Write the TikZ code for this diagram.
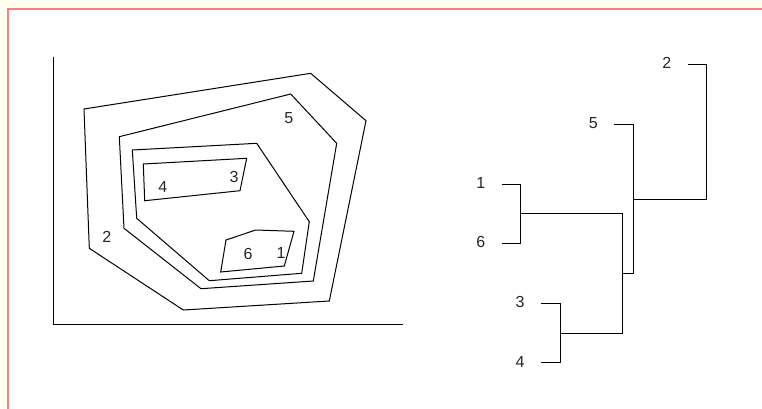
\documentclass[tikz,border=0pt]{standalone}
\usepackage{fontspec}
\setmainfont{Liberation Sans}
\begin{document}
\begin{tikzpicture}[x=1pt,y=-1pt,
  ln/.style={line width=1pt, black, line join=miter},
  lbl/.style={inner sep=0pt, font=\fontsize{16}{16}\selectfont, text=black!85}]
\definecolor{bgyellow}{HTML}{FFFFF0}
\definecolor{framered}{HTML}{FF7F7F}
\useasboundingbox (0,0) rectangle (762,408);
\fill[bgyellow] (0,0) rectangle (762,408);
\fill[white] (8,9) rectangle (763,409);
\draw[framered, line width=2pt] (8,420) -- (8,9) -- (770,9);
% axes
\draw[ln] (53.3,56.7) -- (53.3,324) -- (403,324);
% polygons
\draw[ln] (84,109) -- (310.7,73.3) -- (366,120.7) -- (329.3,301) -- (183.3,310) -- (89.3,248.3) -- cycle;
\draw[ln] (119.3,136.7) -- (290.7,94) -- (336.7,143.3) -- (313.3,281) -- (201,288.7) -- (124,228.3) -- cycle;
\draw[ln] (132.3,150) -- (256.7,143.3) -- (309.3,221.7) -- (301.7,273.3) -- (209.3,280.7) -- (136.7,218.3) -- cycle;
\draw[ln] (143.3,164) -- (246.7,158.3) -- (240,190.7) -- (144.7,200.7) -- cycle;
\draw[ln] (226,240) -- (255.7,230) -- (294,231.3) -- (284.3,266) -- (220.7,272) -- cycle;
\node[lbl] (p2) at (106.7,236.7) {2};
\node[lbl] (p5) at (288.7,118.3) {5};
\node[lbl] (p4) at (162.7,187.3) {4};
\node[lbl] (p3) at (234,176.7) {3};
\node[lbl] (p6) at (248,254.3) {6};
\node[lbl] (p1) at (281,253.3) {1};
% dendrogram
\node[lbl] (d2) at (666.7,63.3) {2};
\node[lbl] (d5) at (593.3,122.7) {5};
\node[lbl] (d1) at (480.7,183.3) {1};
\node[lbl] (d6) at (480.7,241.7) {6};
\node[lbl] (d3) at (520,301.7) {3};
\node[lbl] (d4) at (520,361.7) {4};
\coordinate (j16) at (520.3,213.3);
\coordinate (j34) at (560.7,333.3);
\coordinate (j1634) at (622.7,273.3);
\coordinate (j5) at (633.3,199.3);
\draw[ln] (502,184) -| (j16) |- (502,243.3);
\draw[ln] (540.7,303.3) -| (j34) |- (540.7,362.7);
\draw[ln] (j16) -| (622.7,333.3) -- (j34);
\draw[ln] (614,124.7) -| (j5) |- (j1634);
\draw[ln] (688.3,64.3) -| (706,199.3) -- (j5);
\end{tikzpicture}
\end{document}
